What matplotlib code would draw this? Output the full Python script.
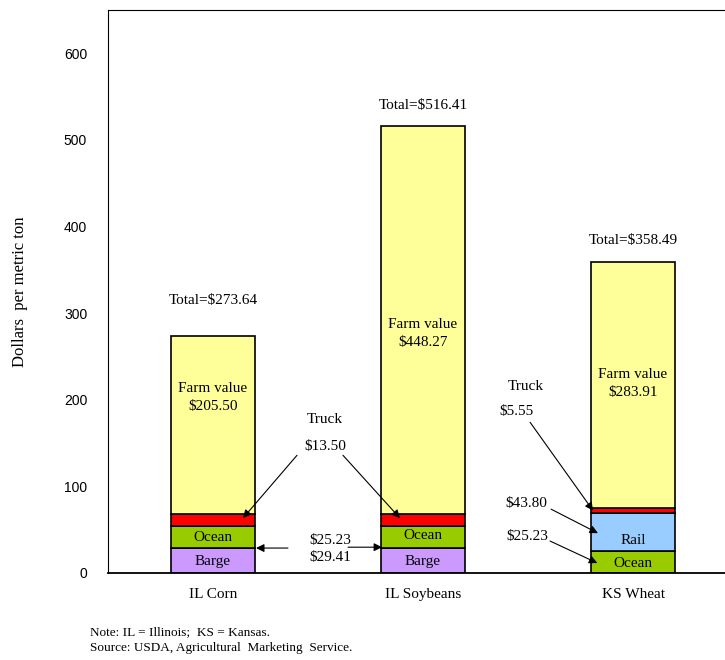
import numpy as np
import matplotlib
matplotlib.use("Agg")
import matplotlib.pyplot as plt

SERIF = "Liberation Serif"
SANS = "Liberation Sans"

commodities = ["IL Corn", "IL Soybeans", "KS Wheat"]
barge = [29.41, 29.41, 0.0]
ocean = [25.23, 25.23, 25.23]
rail = [0.0, 0.0, 43.80]
truck = [13.50, 13.50, 5.55]
farm = [205.50, 448.27, 283.91]
totals = [273.64, 516.41, 358.49]

C_BARGE = "#cc99ff"
C_OCEAN = "#99cc00"
C_RAIL = "#99ccff"
C_TRUCK = "#ff0000"
C_FARM = "#ffff99"

fig = plt.figure(figsize=(7.25, 6.6), dpi=100)
ax = fig.add_axes([108 / 725, 87 / 660, 630 / 725, 563 / 660])

x = np.arange(len(commodities))
w = 0.4
bottom = np.zeros(len(x))
for vals, col in [(barge, C_BARGE), (ocean, C_OCEAN), (rail, C_RAIL),
                  (truck, C_TRUCK), (farm, C_FARM)]:
    v = np.array(vals)
    mask = v > 0
    ax.bar(x[mask], v[mask], w, bottom=bottom[mask], color=col,
           edgecolor="black", linewidth=1.2)
    bottom += v

ax.set_xlim(-0.5, 2.5)
ax.set_ylim(0, 650)
ax.set_yticks(range(0, 601, 100))
ax.set_yticklabels([str(t) for t in range(0, 601, 100)], fontfamily=SANS, fontsize=10)
ax.set_xticks(x)
ax.set_xticklabels(commodities, fontfamily=SERIF, fontsize=11)
ax.tick_params(axis="both", length=0)
ax.tick_params(axis="y", pad=15)
ax.tick_params(axis="x", pad=11)
for s in ["left", "top", "right"]:
    ax.spines[s].set_linewidth(0.8)
ax.spines["bottom"].set_linewidth(1.3)
ax.set_ylabel("Dollars  per metric ton", fontfamily=SERIF, fontsize=12, labelpad=26)

tf = dict(fontfamily=SERIF, fontsize=11, ha="center", va="center")

# totals
for xi, t, y in zip(x, totals, [314.5, 540, 383.6]):
    ax.text(xi, y, f"Total=${t:.2f}", **tf)

# farm value labels
for xi, f, y in zip(x, farm, [202.7, 276.5, 219]):
    ax.text(xi, y, f"Farm value\n${f:.2f}", linespacing=1.45, **tf)

# segment labels
ax.text(0, 13.8, "Barge", **tf)
ax.text(1, 13.8, "Barge", **tf)
ax.text(0, 41.5, "Ocean", **tf)
ax.text(1, 43, "Ocean", **tf)
ax.text(2, 37, "Rail", **tf)
ax.text(2, 10.4, "Ocean", **tf)

ap = dict(arrowstyle="-|>", color="black", lw=0.8, mutation_scale=12,
          shrinkA=0, shrinkB=0)

# truck callouts (corn/soy)
ax.text(0.533, 177.4, "Truck", **tf)
ax.text(0.533, 146.3, f"${truck[0]:.2f}", **tf)
ax.annotate("", xy=(0.143, 63.4), xytext=(0.40, 135.9), arrowprops=ap)
ax.annotate("", xy=(0.890, 63.4), xytext=(0.619, 135.9), arrowprops=ap)

# ocean / barge callouts
ax.text(0.56, 38, f"${ocean[0]:.2f}", **tf)
ax.text(0.56, 18.4, f"${barge[0]:.2f}", **tf)
ax.annotate("", xy=(0.205, 28.8), xytext=(0.357, 28.8), arrowprops=ap)
ax.annotate("", xy=(0.805, 29.8), xytext=(0.643, 29.8), arrowprops=ap)

# wheat callouts
ax.text(1.49, 215, "Truck", **tf)
ax.text(1.443, 186.6, f"${truck[2]:.2f}", **tf)
ax.annotate("", xy=(1.81, 72), xytext=(1.51, 174), arrowprops=ap)
ax.text(1.49, 80.6, f"${rail[2]:.2f}", **tf)
ax.annotate("", xy=(1.833, 46), xytext=(1.61, 73.7), arrowprops=ap)
ax.text(1.495, 42.6, f"${ocean[2]:.2f}", **tf)
ax.annotate("", xy=(1.83, 11.5), xytext=(1.605, 36.9), arrowprops=ap)

fig.text(90 / 725, 1 - 632 / 660, "Note: IL = Illinois;  KS = Kansas.",
         fontfamily=SERIF, fontsize=9.5, va="center")
fig.text(90 / 725, 1 - 648 / 660, "Source: USDA, Agricultural  Marketing  Service.",
         fontfamily=SERIF, fontsize=9.5, va="center")

fig.savefig("out.png", dpi=100, facecolor="white")
